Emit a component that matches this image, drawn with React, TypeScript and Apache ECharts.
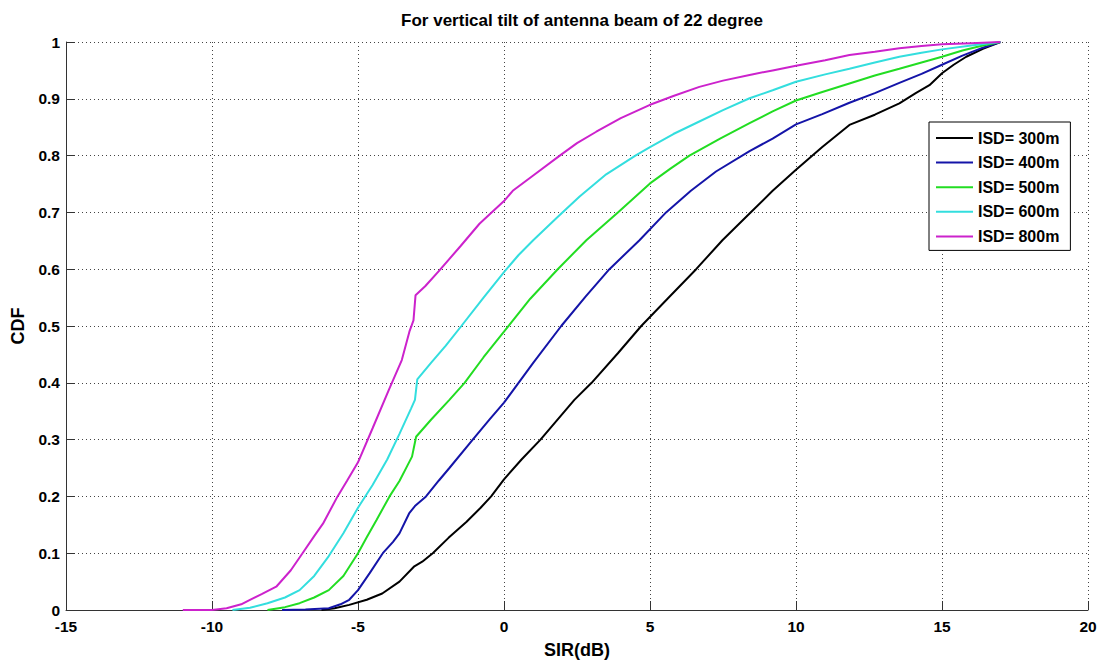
import React, { useEffect, useRef } from "react";
import * as echarts from "echarts";

const titleText = "For vertical tilt of antenna beam of 22 degree";
const xAxisName = "SIR(dB)";
const yAxisName = "CDF";
const seriesNames = ["ISD= 300m", "ISD= 400m", "ISD= 500m", "ISD= 600m", "ISD= 800m"];
const seriesColors = ["#000000", "#1414a8", "#22dd22", "#33dede", "#cc22cc"];

const isd300: number[][] = [
  [-6.25, 0], [-5.8, 0.003], [-5.3, 0.009], [-4.7, 0.018], [-4.17, 0.029], [-3.58, 0.05],
  [-3.07, 0.077], [-2.8, 0.085], [-2.44, 0.1], [-1.9, 0.127], [-1.29, 0.155], [-0.8, 0.18],
  [-0.44, 0.2], [0, 0.23], [0.6, 0.265], [1.25, 0.3], [2.41, 0.37], [3, 0.4], [3.9, 0.452],
  [4.7, 0.5], [5.6, 0.548], [6.58, 0.6], [7.48, 0.651], [8.41, 0.698], [9.2, 0.738],
  [10, 0.775], [10.9, 0.815], [11.83, 0.854], [12.7, 0.872], [13.54, 0.892], [14.1, 0.91],
  [14.57, 0.924], [15, 0.945], [15.4, 0.96], [15.83, 0.974], [16.4, 0.988], [17, 1],
];

const isd400: number[][] = [
  [-7.6, 0], [-6.8, 0.001], [-6, 0.003], [-5.6, 0.01], [-5.3, 0.018], [-5, 0.035],
  [-4.6, 0.065], [-4.15, 0.1], [-3.8, 0.12], [-3.58, 0.135], [-3.25, 0.17], [-3.05, 0.183],
  [-2.67, 0.2], [-2.23, 0.228], [-1.87, 0.25], [-1.07, 0.3], [-0.5, 0.335], [0, 0.365],
  [1, 0.435], [1.96, 0.5], [2.8, 0.552], [3.61, 0.6], [4.64, 0.651], [5.55, 0.7],
  [6.4, 0.738], [7.26, 0.772], [8.41, 0.808], [9.2, 0.83], [10, 0.855], [10.9, 0.873],
  [11.83, 0.893], [12.7, 0.91], [13.54, 0.928], [14.3, 0.944], [15, 0.96], [15.7, 0.976],
  [16.4, 0.99], [17, 1],
];

const isd500: number[][] = [
  [-8.1, 0], [-7.5, 0.005], [-7, 0.012], [-6.5, 0.022], [-6, 0.035], [-5.5, 0.06], [-5, 0.1],
  [-4.7, 0.128], [-4.37, 0.158], [-3.92, 0.2], [-3.58, 0.227], [-3.3, 0.255], [-3.15, 0.27],
  [-3.01, 0.305], [-2.5, 0.335], [-1.87, 0.37], [-1.35, 0.4], [-0.7, 0.445], [0, 0.49],
  [0.9, 0.548], [1.84, 0.6], [2.82, 0.651], [3.9, 0.7], [5, 0.751], [5.7, 0.777], [6.35, 0.8],
  [7.4, 0.83], [8.41, 0.857], [9.2, 0.878], [10, 0.897], [10.9, 0.912], [11.83, 0.927],
  [12.7, 0.941], [13.54, 0.953], [14.3, 0.964], [15, 0.974], [15.7, 0.985], [16.4, 0.994],
  [17, 1],
];

const isd600: number[][] = [
  [-9.3, 0], [-8.7, 0.004], [-8.1, 0.012], [-7.5, 0.022], [-7, 0.035], [-6.5, 0.06],
  [-6, 0.095], [-5.5, 0.135], [-5, 0.18], [-4.5, 0.22], [-4, 0.265], [-3.58, 0.31],
  [-3.18, 0.355], [-3.05, 0.37], [-2.97, 0.406], [-2.5, 0.435], [-2, 0.465], [-1.46, 0.5],
  [-0.7, 0.55], [0, 0.595], [0.5, 0.625], [1, 0.651], [1.8, 0.69], [2.59, 0.728],
  [3.5, 0.767], [4.5, 0.8], [5, 0.815], [5.8, 0.838], [6.69, 0.86], [7.5, 0.88],
  [8.41, 0.901], [9.2, 0.915], [10, 0.93], [11, 0.943], [11.83, 0.953], [12.7, 0.964],
  [13.54, 0.974], [14.3, 0.981], [15, 0.987], [16, 0.994], [17, 1],
];

const isd800: number[][] = [
  [-11, 0], [-10, 0], [-9.5, 0.003], [-9, 0.01], [-8.7, 0.018], [-8.3, 0.028], [-7.8, 0.041],
  [-7.3, 0.07], [-6.9, 0.1], [-6.5, 0.13], [-6.2, 0.152], [-5.7, 0.2], [-5.37, 0.228],
  [-5, 0.26], [-4.5, 0.32], [-3.94, 0.388], [-3.5, 0.44], [-3.24, 0.49], [-3.1, 0.51],
  [-3.03, 0.554], [-2.7, 0.57], [-2.21, 0.598], [-1.5, 0.64], [-0.84, 0.68], [0, 0.72],
  [0.3, 0.738], [1, 0.765], [1.91, 0.8], [2.5, 0.822], [3.16, 0.842], [4, 0.866],
  [4.98, 0.889], [5.8, 0.905], [6.69, 0.921], [7.5, 0.932], [8.41, 0.942], [9.2, 0.95],
  [10, 0.958], [11, 0.968], [11.83, 0.977], [12.7, 0.983], [13.54, 0.989], [14.3, 0.993],
  [15, 0.996], [16, 0.998], [17, 1],
];

const allSeries = [isd300, isd400, isd500, isd600, isd800];

const FONT = "'Liberation Sans', Arial, Helvetica, sans-serif";

export default function App() {
  const ref = useRef<HTMLDivElement>(null);
  useEffect(() => {
    if (!ref.current) return;
    const chart = echarts.init(ref.current, undefined, { renderer: "svg" });
    const dotted = { type: [1, 3] as any, color: "#444", width: 1 };
    chart.setOption({
      animation: false,
      backgroundColor: "#ffffff",
      textStyle: { fontFamily: FONT },
      title: {
        text: titleText,
        left: 577,
        top: 7,
        textAlign: "center",
        textStyle: { fontSize: 17, fontWeight: "bold", color: "#000", fontFamily: FONT },
      },
      grid: { left: 66, right: 17, top: 42, bottom: 59, containLabel: false },
      legend: {
        orient: "vertical",
        left: 929,
        top: 122,
        backgroundColor: "#ffffff",
        borderColor: "#000",
        borderWidth: 1,
        borderRadius: 0,
        padding: [8, 11, 6, 7],
        icon: "rect",
        itemWidth: 37,
        itemHeight: 2,
        itemGap: 8.6,
        textStyle: { fontSize: 16, fontWeight: "bold", color: "#000", fontFamily: FONT, lineHeight: 14 },
        data: seriesNames,
      },
      xAxis: {
        type: "value",
        min: -15,
        max: 20,
        interval: 5,
        name: xAxisName,
        nameLocation: "middle",
        nameGap: 31,
        nameTextStyle: { fontSize: 18, fontWeight: "bold", color: "#000", fontFamily: FONT },
        axisLine: { show: true, onZero: false, lineStyle: { color: "#333", width: 1 } },
        axisTick: { show: true, inside: true, length: 9, lineStyle: { color: "#333" } },
        axisLabel: {
          fontSize: 15.5,
          lineHeight: 13,
          fontWeight: "bold",
          color: "#000",
          margin: 9.5,
          fontFamily: FONT,
        },
        splitLine: { show: true, lineStyle: dotted },
      },
      yAxis: {
        type: "value",
        min: 0,
        max: 1,
        interval: 0.1,
        name: yAxisName,
        nameLocation: "middle",
        nameGap: 39,
        nameTextStyle: { fontSize: 18, fontWeight: "bold", color: "#000", fontFamily: FONT },
        axisLine: { show: true, onZero: false, lineStyle: { color: "#333", width: 1 } },
        axisTick: { show: true, inside: true, length: 9, lineStyle: { color: "#333" } },
        axisLabel: {
          fontSize: 15.5,
          lineHeight: 12,
          fontWeight: "bold",
          color: "#000",
          margin: 6,
          fontFamily: FONT,
          formatter: (v: number) => String(Math.round(v * 10) / 10),
        },
        splitLine: { show: true, lineStyle: dotted },
      },
      series: allSeries.map((d, i) => ({
        name: seriesNames[i],
        type: "line",
        data: d,
        symbol: "none",
        smooth: false,
        lineStyle: { color: seriesColors[i], width: 2 },
        itemStyle: { color: seriesColors[i] },
        z: 2 + i,
      })),
    });
    return () => chart.dispose();
  }, []);
  return (
    <div
      ref={ref}
      style={{ position: "fixed", left: 0, top: 0, width: 1105, height: 669, background: "#fff" }}
    />
  );
}
